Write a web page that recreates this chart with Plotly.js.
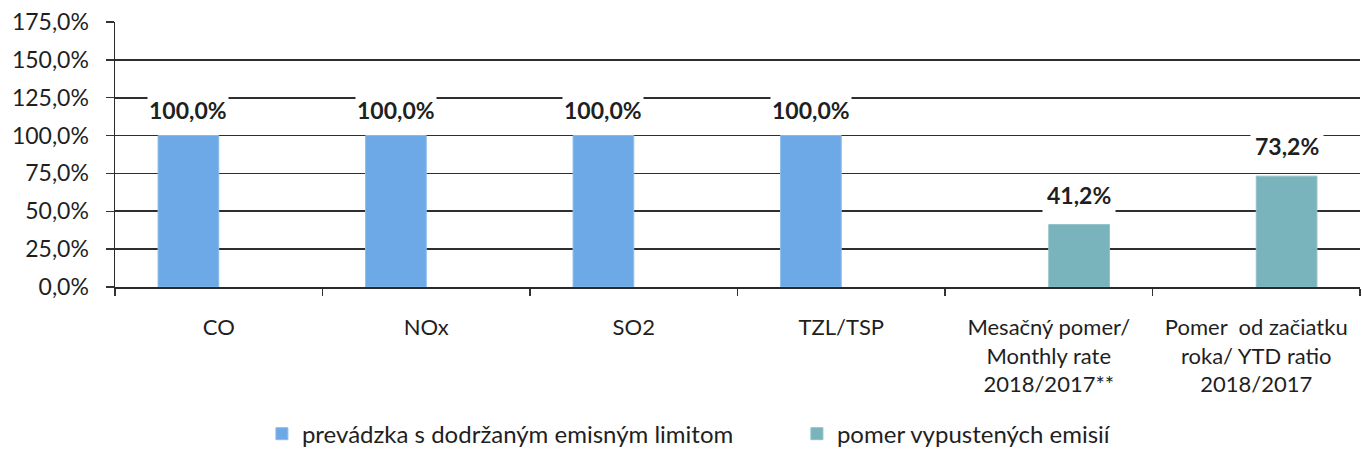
<!DOCTYPE html>
<html><head><meta charset="utf-8">
<script src="https://cdn.plot.ly/plotly-3.0.1.min.js"></script>
<style>html,body{margin:0;padding:0;background:#fff;}#chart{width:1362px;height:459px;}</style>
</head><body><div id="chart"></div>
<script>
const categories = ["CO", "NOx", "SO2", "TZL/TSP", "Mesačný pomer/<br>Monthly rate<br>2018/2017**", "Pomer  od začiatku<br>roka/ YTD ratio<br>2018/2017"];
const limitValues = [100, 100, 100, 100, null, null];
const ratioValues = [null, null, null, null, 41.2, 73.2];
const seriesNames = ["prevádzka s dodržaným emisným limitom", "pomer vypustených emisií"];
const yTicks = [0, 25, 50, 75, 100, 125, 150, 175];

const M = {l: 115, r: 2, t: 22, b: 170};
const W = 1362, H = 459;
const bargap = 0.415;
const catW = (W - M.l - M.r) / categories.length;
const shift = catW * (1 - bargap) / 4;
const fmt = v => v.toFixed(1).replace('.', ',') + '%';
const FONT = 'Lato, sans-serif';
const TXT = '#1f1f1f';

const annotations = [];
categories.forEach((c, i) => {
  if (limitValues[i] != null) annotations.push({x: c, y: limitValues[i], text: '<b>' + fmt(limitValues[i]) + '</b>', xref: 'x', yref: 'y', showarrow: false, yanchor: 'bottom', xshift: -shift, yshift: 10, bgcolor: '#ffffff', font: {family: FONT, size: 23, color: TXT}});
  if (ratioValues[i] != null) annotations.push({x: c, y: ratioValues[i], text: '<b>' + fmt(ratioValues[i]) + '</b>', xref: 'x', yref: 'y', showarrow: false, yanchor: 'bottom', xshift: shift, yshift: 11, bgcolor: '#ffffff', borderpad: 4, font: {family: FONT, size: 23, color: TXT}});
});

const data = [
  {type: 'bar', x: categories, y: limitValues, name: seriesNames[0], marker: {color: '#6ca9e6', line: {color: '#8dbdec', width: 1}}, hoverinfo: 'none'},
  {type: 'bar', x: categories, y: ratioValues, name: seriesNames[1], marker: {color: '#79b3bb', line: {color: '#90c1c7', width: 1}}, hoverinfo: 'none'}
];

const layout = {
  width: W, height: H,
  margin: M,
  paper_bgcolor: '#fff', plot_bgcolor: '#fff',
  barmode: 'group', bargap: bargap, bargroupgap: 0,
  separators: ', ',
  font: {family: FONT, size: 23, color: TXT},
  xaxis: {
    type: 'category', tickson: 'boundaries', ticks: 'outside', ticklen: 7, tickcolor: '#333', tickwidth: 1.3,
    showline: true, linecolor: '#2a2a2a', linewidth: 1.8, showgrid: false, tickangle: 0,
    tickfont: {family: FONT, size: 22, color: TXT}, ticklabelstandoff: 20, automargin: false
  },
  yaxis: {
    range: [0, 175], tickvals: yTicks, ticktext: yTicks.map(fmt),
    ticks: 'outside', ticklen: 8, tickcolor: '#333', tickwidth: 1.3,
    showline: true, linecolor: '#2a2a2a', linewidth: 1.5,
    showgrid: true, gridcolor: '#2e2e2e', gridwidth: 1.8, zeroline: false,
    tickfont: {family: FONT, size: 23, color: TXT}, ticklabelstandoff: 12, automargin: false
  },
  legend: {orientation: 'h', x: 0.118, xanchor: 'left', y: -0.555, yanchor: 'middle', font: {family: FONT, size: 24, color: TXT}, itemwidth: 30, entrywidth: 490, entrywidthmode: 'pixels', traceorder: 'normal'},
  annotations: annotations,
  showlegend: true
};

Plotly.newPlot('chart', data, layout, {displayModeBar: false, staticPlot: true});
</script></body></html>
